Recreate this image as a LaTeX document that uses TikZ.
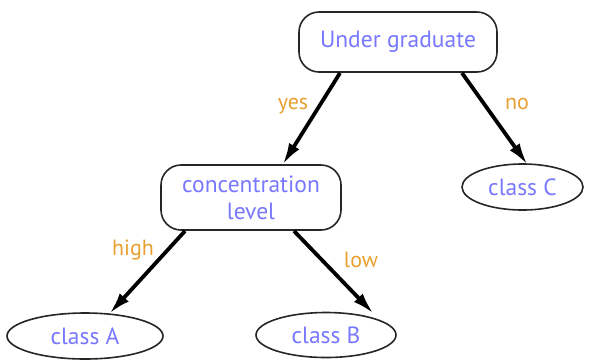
\documentclass[tikz,border=0pt]{standalone}
\usepackage{fontspec}
\setmainfont{PT Sans}
\usetikzlibrary{arrows.meta,shapes.geometric}
\definecolor{txtblue}{HTML}{7878FF}
\definecolor{lblorange}{HTML}{E8A030}
\tikzset{
  x=1pt,y=-1pt,
  decision/.style={draw=black!85,line width=1.6pt,rounded corners=20pt,fill=white,text=txtblue,
    font=\fontsize{23.5}{27}\selectfont,align=center,inner sep=0pt},
  leaf/.style={draw=black!85,line width=1.6pt,ellipse,fill=white,text=txtblue,
    font=\fontsize{23.5}{27}\selectfont,inner sep=0pt},
  branch/.style={line width=3.8pt,-{Latex[length=22pt,width=12pt]},shorten >=-1pt},
  lbl/.style={text=lblorange,font=\fontsize{22}{26}\selectfont}
}
\begin{document}
\begin{tikzpicture}
\useasboundingbox (0,0) rectangle (601,360);
\node[decision,minimum width=198pt,minimum height=60pt] (ug) at (398,42) {Under graduate};
\node[decision,minimum width=180pt,minimum height=65pt] (cl) at (251,197.5) {concentration\\level};
\node[leaf,minimum width=121pt,minimum height=46pt] (cC) at (522.5,187) {class C};
\node[leaf,minimum width=156pt,minimum height=46pt] (cA) at (85,336) {class A};
\node[leaf,minimum width=140pt,minimum height=45pt] (cB) at (326,335) {class B};
\coordinate (ug1) at (340,73);
\coordinate (ug2) at (462,73);
\coordinate (cl1) at (185,231);
\coordinate (cl2) at (294,231);
\coordinate (cl3) at (283,164);
\coordinate (cC1) at (527,164);
\coordinate (cA1) at (110,313);
\coordinate (cB1) at (373,313);
\draw[branch] (ug1) -- (cl3);
\draw[branch] (ug2) -- (cC1);
\draw[branch] (cl1) -- (cA1);
\draw[branch] (cl2) -- (cB1);
\node[lbl] (yes) at (293,106) {yes};
\node[lbl] (no) at (517,104) {no};
\node[lbl] (high) at (133,250) {high};
\node[lbl] (low) at (361,260) {low};
\end{tikzpicture}
\end{document}
